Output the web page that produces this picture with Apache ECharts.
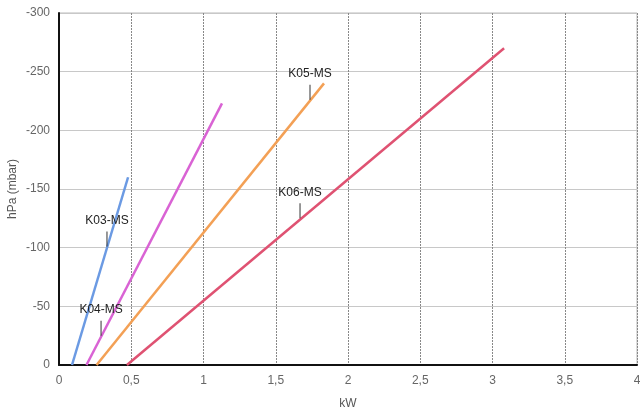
<!DOCTYPE html>
<html><head><meta charset="utf-8">
<script src="https://cdn.jsdelivr.net/npm/echarts@6/dist/echarts.min.js"></script>
<style>html,body{margin:0;padding:0;background:#fff}#c{width:640px;height:408px}</style>
</head><body><div id="c"></div>
<script>
const seriesNames = ['K03-MS', 'K04-MS', 'K05-MS', 'K06-MS'];
const k03 = [[0.09, 0], [0.478, -160]];
const k04 = [[0.19, 0], [1.128, -223]];
const k05 = [[0.26, 0], [1.834, -240]];
const k06 = [[0.47, 0], [3.08, -270]];
const labelPoints = [[0.332, -101], [0.291, -25], [1.737, -226], [1.668, -125]];
const xTicks = [0, 0.5, 1, 1.5, 2, 2.5, 3, 3.5, 4];
const yTicks = [-300, -250, -200, -150, -100, -50, 0];
const colors = ['#6b9ae3', '#d963d4', '#f3a055', '#df5272'];
const datas = [k03, k04, k05, k06];

const chart = echarts.init(document.getElementById('c'));
const font = 'Liberation Sans, Arial, sans-serif';
chart.setOption({
  animation: false,
  grid: { left: 59, right: 3, top: 13, bottom: 43, show: true, borderColor: '#bbb', borderWidth: 1,
    containLabel: false, outerBoundsMode: 'none' },
  xAxis: {
    type: 'value', min: xTicks[0], max: xTicks[xTicks.length - 1], interval: 0.5,
    name: 'kW', nameLocation: 'middle', nameGap: 33, nameMoveOverlap: false,
    nameTextStyle: { color: '#555', fontSize: 12, fontFamily: font },
    axisLine: { show: true, onZero: false, lineStyle: { color: '#111', width: 2 } },
    axisTick: { show: false },
    axisLabel: { color: '#666', fontSize: 12, fontFamily: font, margin: 10,
      formatter: v => String(v).replace('.', ',') },
    splitLine: { show: true, lineStyle: { color: '#888', type: [2, 1], width: 1 } }
  },
  yAxis: {
    type: 'value', min: yTicks[0], max: yTicks[yTicks.length - 1], interval: 50, inverse: true,
    name: 'hPa (mbar)', nameLocation: 'middle', nameGap: 40, nameRotate: 90, nameMoveOverlap: false,
    nameTextStyle: { color: '#555', fontSize: 12, fontFamily: font },
    axisLine: { show: true, onZero: false, lineStyle: { color: '#111', width: 2 } },
    axisTick: { show: false },
    axisLabel: { color: '#666', fontSize: 12, fontFamily: font, margin: 9 },
    splitLine: { show: true, lineStyle: { color: '#c8c8c8', width: 1 } }
  },
  series: datas.map((d, i) => ({
    name: seriesNames[i], type: 'line', data: d, showSymbol: false, symbol: 'none',
    lineStyle: { color: colors[i], width: 2.5 },
    z: 3,
    markPoint: {
      symbol: 'rect', symbolSize: [1, 15], symbolOffset: [0, -7.5],
      itemStyle: { color: '#333' },
      label: { show: true, position: 'top', distance: 5, color: '#222', fontSize: 12,
        fontFamily: font, formatter: seriesNames[i] },
      data: [{ coord: labelPoints[i] }]
    }
  }))
});
</script></body></html>
